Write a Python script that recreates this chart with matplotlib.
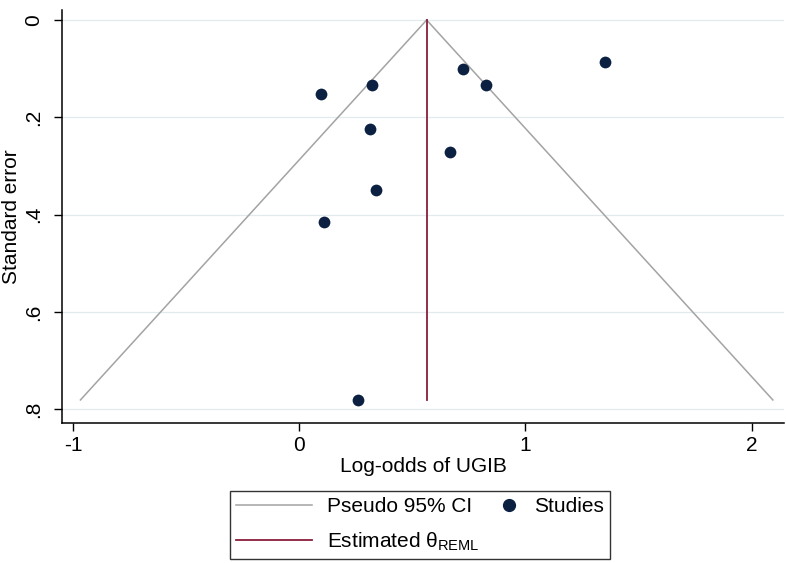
import numpy as np
import matplotlib
matplotlib.use("Agg")
import matplotlib.pyplot as plt
from matplotlib.lines import Line2D
from matplotlib.legend_handler import HandlerBase

plt.rcParams['font.family'] = ['Liberation Sans', 'DejaVu Sans']
plt.rcParams['mathtext.fontset'] = 'custom'
plt.rcParams['mathtext.rm'] = 'Liberation Sans'
plt.rcParams['axes.unicode_minus'] = False

# study estimates
log_odds = [1.351, 0.722, 0.825, 0.320, 0.096, 0.313, 0.666, 0.339, 0.111, 0.258]
std_err = [0.086, 0.101, 0.134, 0.134, 0.152, 0.225, 0.272, 0.349, 0.415, 0.781]
theta = 0.563

y_ticks = [0, 0.2, 0.4, 0.6, 0.8]
y_labels = ["0", ".2", ".4", ".6", ".8"]
x_ticks = [-1, 0, 1, 2]

navy = "#0c2142"
maroon = "#8a1c3c"
grey = "#a3a3a3"
fs = 15


class RightDot(HandlerBase):
    # marker sits at the right end of the handle box, as in the Stata key
    def create_artists(self, legend, orig_handle, xdescent, ydescent,
                       width, height, fontsize, trans):
        dot = Line2D([width - xdescent - 7], [height / 2 - ydescent], ls="none",
                     marker="o", ms=8.5, color=navy, transform=trans)
        return [dot]


fig = plt.figure(figsize=(7.86, 5.63), dpi=100)
W, H = 786, 563
ax = fig.add_axes([62.3 / W, 1 - 423.3 / H, (784 - 62.3) / W, (423.3 - 10) / H])

se_max = max(std_err)
se_line = np.array([0, se_max])
ax.plot(theta - 1.96 * se_line, se_line, color=grey, lw=1.1, zorder=2)
ax.plot(theta + 1.96 * se_line, se_line, color=grey, lw=1.1, zorder=2)
ax.plot([theta, theta], [0, se_max], color=maroon, lw=1.3, zorder=3)
ax.scatter(log_odds, std_err, s=72, color=navy, zorder=4, linewidths=0)

ax.set_xlim(-1.048, 2.143)
ax.set_ylim(0.829, -0.0206)
ax.set_yticks(y_ticks)
ax.set_yticklabels(y_labels, rotation=90, va="center")
ax.set_xticks(x_ticks)
ax.grid(axis="y", color="#e3eaee", lw=0.9)
ax.set_axisbelow(True)

for s in ["top", "right"]:
    ax.spines[s].set_visible(False)
for s in ["left", "bottom"]:
    ax.spines[s].set_linewidth(1.1)
ax.tick_params(direction="out", length=5.5, width=1.0, labelsize=fs)
ax.tick_params(axis="x", pad=4)
ax.tick_params(axis="y", pad=8)

ax.set_ylabel("Standard error", fontsize=fs)
ax.set_xlabel("Log-odds of UGIB", fontsize=fs)
ax.yaxis.set_label_coords((12 - 62.3) / (784 - 62.3), 0.5)
ax.xaxis.set_label_coords(0.5, (423.3 - 466) / (423.3 - 10))
ax.xaxis.label.set_va("center")
ax.yaxis.label.set_va("center")

handles = [
    Line2D([], [], color=grey, lw=1.1),
    Line2D([], [], color=maroon, lw=1.3),
    Line2D([], [], ls="none", marker="o", ms=8.5, color=navy),
]
labels = ["Pseudo 95% CI", "Estimated θ$_{\\mathrm{REML}}$", "Studies"]
leg = fig.legend(handles, labels, ncol=2, loc="center",
                 bbox_to_anchor=(420 / W, 1 - 525 / H), bbox_transform=fig.transFigure,
                 fontsize=fs, frameon=True, fancybox=False, handlelength=3.65,
                 columnspacing=-1.75, handletextpad=0.72, labelspacing=0.65,
                 borderpad=0.3, borderaxespad=0,
                 handler_map={handles[2]: RightDot()})
leg.get_frame().set_edgecolor("black")
leg.get_frame().set_linewidth(1.0)

fig.savefig("out.png", dpi=100)
